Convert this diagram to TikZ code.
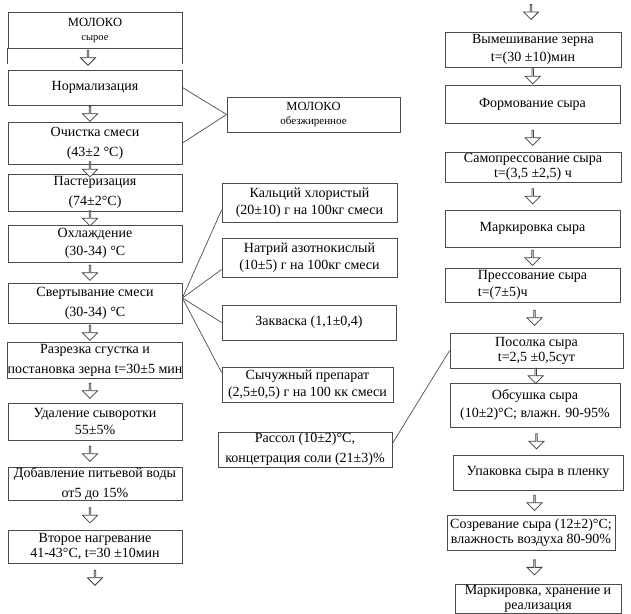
\documentclass[tikz,border=0pt]{standalone}
\usepackage{fontspec}
\setmainfont{Liberation Serif}
\newfontfamily\timesfont{Liberation Serif}
\usetikzlibrary{shapes, arrows, positioning, calc}

\newcommand{\boxfont}{\timesfont\fontsize{14}{17.5}\selectfont}
\newcommand{\loosefont}{\timesfont\fontsize{14}{20}\selectfont}
\newcommand{\tightfont}{\timesfont\fontsize{14}{15}\selectfont}
\newcommand{\smallfont}{\timesfont\fontsize{12.5}{14}\selectfont}
\tikzstyle{block} = [rectangle, draw=black!70, line width=0.8pt, fill=white, align=center, inner sep=0pt, font=\boxfont]
\tikzstyle{lcol} = [block, minimum width=174pt]
\tikzstyle{mcol} = [block]
\tikzstyle{rcol} = [block]
\tikzstyle{loose} = [font=\loosefont]
\tikzstyle{tight} = [font=\tightfont]
\tikzstyle{down} = [single arrow, draw=black!75, line width=0.8pt, fill=white, rotate=-90, minimum width=15pt, minimum height=15pt, single arrow head extend=4pt, inner sep=0pt]
\tikzstyle{line} = [draw=black!70, line width=0.7pt]

\begin{document}
\begin{tikzpicture}[x=1pt, y=-1pt]
    \useasboundingbox (0,0) rectangle (631,613);

    % Left column
    \node [lcol, minimum height=36pt, font=\smallfont] (milk) at (95,30) {МОЛОКО\\{\timesfont\fontsize{10.5}{12}\selectfont сырое}};
    \node [lcol, minimum height=35pt] (norm) at (95,87.5) {Нормализация};
    \node [lcol, loose, minimum height=42pt] (clean) at (95,143) {Очистка смеси\\(43±2 °C)};
    \node [lcol, loose, minimum height=37pt] (past) at (95,192.5) {Пастеризация\\(74±2°C)};
    \node [lcol, minimum height=37pt] (cool) at (95,243.5) {Охлаждение\\(30-34) °C};
    \node [lcol, loose, minimum height=40pt] (coag) at (95,303) {Свертывание смеси\\(30-34) °C};
    \node [lcol, loose, minimum height=36pt] (cut) at (95,360) {Разрезка сгустка и\\постановка зерна t=30±5 мин};
    \node [lcol, minimum height=37pt] (whey) at (95,421.5) {Удаление сыворотки\\55±5\%};
    \node [lcol, loose, minimum height=33pt] (water) at (95,483.5) {Добавление питьевой воды\\от5 до 15\%};
    \node [lcol, tight, minimum height=33pt] (heat) at (95,546.5) {Второе нагревание\\41-43°C, t=30 ±10мин};
    \draw [line] (milk.south west) -- ++(0,16);
    \draw [line] (milk.south east) -- ++(0,16);

    % Middle column
    \node [mcol, minimum width=173pt, minimum height=35pt, font=\smallfont] (skim) at (313.5,114.5) {МОЛОКО\\{\timesfont\fontsize{11}{12}\selectfont обезжиренное}};
    \node [mcol, minimum width=175pt, minimum height=39pt] (ca) at (309.5,202.5) {Кальций хлористый\\(20±10) г на 100кг смеси};
    \node [mcol, minimum width=175pt, minimum height=39pt] (na) at (309.5,257.5) {Натрий азотнокислый\\(10±5) г на 100кг смеси};
    \node [mcol, minimum width=174pt, minimum height=35pt] (starter) at (309,322.5) {Закваска (1,1±0,4)};
    \node [mcol, minimum width=171pt, minimum height=35pt] (rennet) at (307.5,384.5) {Сычужный препарат\\(2,5±0,5) г на 100 кк смеси};
    \node [mcol, loose, minimum width=174pt, minimum height=35pt] (brine) at (305,449.5) {Рассол (10±2)°C,\\концетрация соли (21±3)\%};

    % Right column
    \node [rcol, minimum width=176pt, minimum height=35pt] (mix) at (533,49.5) {Вымешивание зерна\\t=(30 ±10)мин};
    \node [rcol, minimum width=175pt, minimum height=38pt] (mold) at (532.5,104) {Формование сыра};
    \node [rcol, tight, minimum width=176pt, minimum height=30pt] (selfp) at (533,167) {Самопрессование сыра\\t=(3,5 ±2,5) ч};
    \node [rcol, minimum width=175pt, minimum height=37pt] (mark) at (532.5,228.5) {Маркировка сыра};
    \node [rcol, minimum width=175pt, minimum height=34pt, align=left] (press) at (532.5,285) {Прессование сыра\\t=(7±5)ч};
    \node [rcol, tight, minimum width=173pt, minimum height=35pt] (salt) at (536.5,350.5) {Посолка сыра\\t=2,5 ±0,5сут};
    \node [rcol, minimum width=170pt, minimum height=44pt] (dry) at (535,405) {Обсушка сыра\\(10±2)°C; влажн. 90-95\%};
    \node [rcol, minimum width=170pt, minimum height=35pt] (pack) at (538,472.5) {Упаковка сыра в пленку};
    \node [rcol, tight, minimum width=168pt, minimum height=35pt] (ripen) at (531,532.5) {Созревание сыра (12±2)°C;\\влажность воздуха 80-90\%};
    \node [rcol, tight, minimum width=166pt, minimum height=29pt] (store) at (538,598.5) {Маркировка, хранение и\\реализация};

    % Arrows
    \node [down] (a0) at ($(milk.south)+(-7,9)$) {};
    \foreach \a/\b in {norm/clean, clean/past, past/cool, cool/coag, coag/cut, cut/whey, whey/water, water/heat}
        \node [down] (\a-\b) at ($(\a.south)!0.5!(\b.north)+(-5,0)$) {};
    \node [down] (aend) at ($(heat.south)+(0,14)$) {};
    \node [down] (atop) at ($(mix.north)+(-2,-20)$) {};
    \foreach \a/\b in {mix/mold, mold/selfp, selfp/mark, mark/press, press/salt, salt/dry, dry/pack, pack/ripen, ripen/store}
        \node [down] (\a-\b) at ($(\a.south)!0.5!(\b.north)$) {};

    % Lines
    \coordinate (hub) at ([yshift=5pt]coag.east);
    \path [line] (norm.east) -- (skim.west);
    \path [line] (clean.east) -- (skim.west);
    \path [line] (hub) -- ([yshift=-7.5pt]ca.west);
    \path [line] (hub) -- ([yshift=-12pt]na.west);
    \path [line] (hub) -- (starter.west);
    \path [line] (hub) -- ([yshift=12pt]rennet.west);
    \path [line] ([yshift=6pt]brine.east) -- (salt.west);
\end{tikzpicture}
\end{document}
